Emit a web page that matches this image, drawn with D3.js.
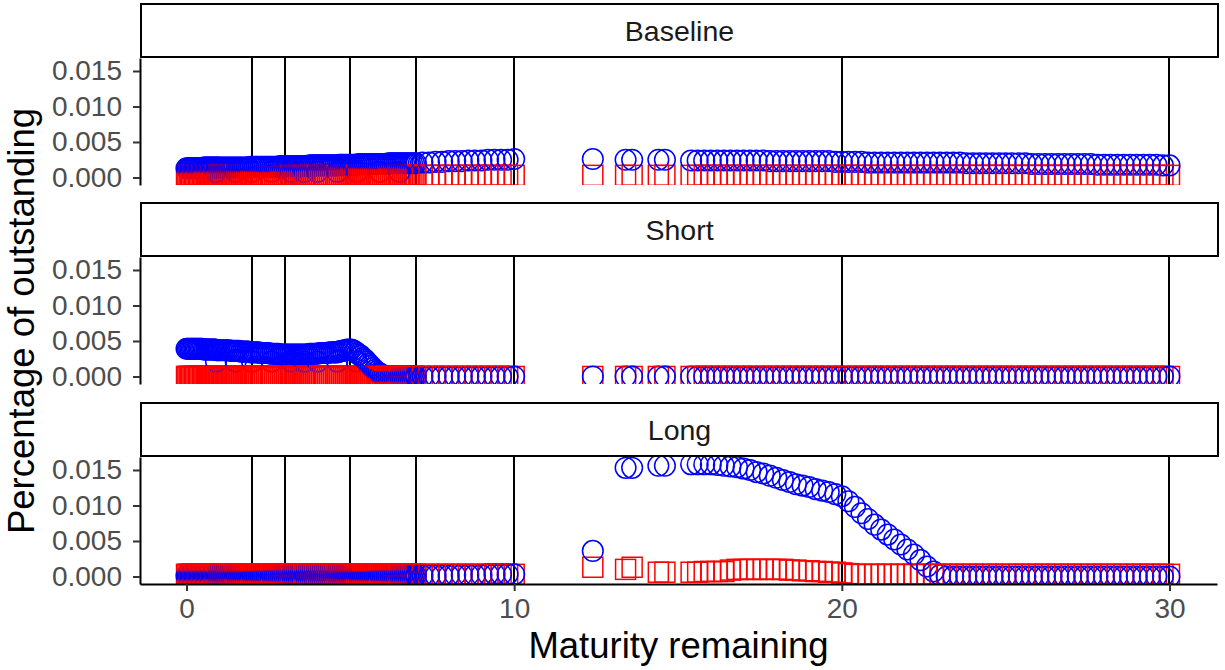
<!DOCTYPE html>
<html>
<head>
<meta charset="utf-8">
<script src="https://cdn.jsdelivr.net/npm/d3@7"></script>
<style>
  body { margin: 0; background: #fff; }
  text { font-family: "Liberation Sans", Arial, sans-serif; }
</style>
</head>
<body>
<svg id="chart" width="1225" height="670"></svg>
<script>
// facets
const panels = ["Baseline", "Short", "Long"];

// reference maturities (vertical rules)
const benchmarks = [2, 3, 5, 7, 10, 20, 30];

// maturity remaining of each issue
const maturity = [
  0, 0.04, 0.08, 0.12, 0.16, 0.2, 0.24, 0.28, 0.32, 0.36,
  0.4, 0.44, 0.48, 0.52, 0.56, 0.6, 0.64, 0.68, 0.72, 0.76,
  0.8, 0.84, 0.88, 0.92, 0.96, 1.0,
  1.06, 1.12, 1.18, 1.24, 1.3, 1.36, 1.42, 1.48, 1.54, 1.6,
  1.66, 1.72, 1.78, 1.84, 1.9, 1.96, 2.02, 2.08, 2.14, 2.2,
  2.26, 2.32, 2.38, 2.44, 2.5, 2.56, 2.62, 2.68, 2.74, 2.8,
  2.86, 2.92, 2.98, 3.04, 3.1, 3.16, 3.22, 3.28, 3.34, 3.4,
  3.46, 3.52, 3.58, 3.64, 3.7, 3.76, 3.82, 3.88, 3.94, 4.0,
  4.06, 4.12, 4.18, 4.24, 4.3, 4.36, 4.42, 4.48, 4.54, 4.6,
  4.66, 4.72, 4.78, 4.84, 4.9, 4.96, 5.02, 5.08, 5.14, 5.2,
  5.26, 5.32, 5.38, 5.44, 5.5, 5.56, 5.62, 5.68, 5.74, 5.8,
  5.86, 5.92, 5.98, 6.04, 6.1, 6.16, 6.22, 6.28, 6.34, 6.4,
  6.46, 6.52, 6.58, 6.64, 6.7, 6.76, 6.82, 6.88, 6.94, 7.0,
  7.2, 7.4, 7.6, 7.8, 8.0, 8.2, 8.4, 8.6, 8.8, 9.0,
  9.2, 9.4, 9.6, 9.8, 10.0,
  12.4, 13.4, 13.6, 14.4, 14.6, 15.4, 15.6,
  15.8, 16.0, 16.2, 16.4, 16.6, 16.8, 17.0, 17.2, 17.4, 17.6,
  17.8, 18.0, 18.2, 18.4, 18.6, 18.8, 19.0, 19.2, 19.4, 19.6,
  19.8, 20.0, 20.2, 20.4, 20.6, 20.8, 21.0, 21.2, 21.4, 21.6,
  21.8, 22.0, 22.2, 22.4, 22.6, 22.8, 23.0, 23.2, 23.4, 23.6,
  23.8, 24.0, 24.2, 24.4, 24.6, 24.8, 25.0, 25.2, 25.4, 25.6,
  25.8, 26.0, 26.2, 26.4, 26.6, 26.8, 27.0, 27.2, 27.4, 27.6,
  27.8, 28.0, 28.2, 28.4, 28.6, 28.8, 29.0, 29.2, 29.4, 29.6,
  29.8, 30.0
];

const baselineBlue = [
  0.0013, 0.0013, 0.0013, 0.0013, 0.0013, 0.0013, 0.0013, 0.0013, 0.0013, 0.0013,
  0.0013, 0.0013, 0.0013, 0.0014, 0.0014, 0.0014, 0.0014, 0.0014, 0.0014, 0.0014,
  0.0014, 0.0014, 0.0014, 0.0014, 0.0014, 0.0014,
  0.0014, 0.0014, 0.0014, 0.0014, 0.0014, 0.0014, 0.0014, 0.0014, 0.0014, 0.0014,
  0.0014, 0.0014, 0.0014, 0.0014, 0.0014, 0.0015, 0.0015, 0.0015, 0.0015, 0.0015,
  0.0015, 0.0015, 0.0015, 0.0015, 0.0015, 0.0015, 0.0015, 0.0015, 0.0015, 0.0015,
  0.0016, 0.0016, 0.0016, 0.0016, 0.0016, 0.0016, 0.0016, 0.0016, 0.0016, 0.0016,
  0.0016, 0.0016, 0.0016, 0.0016, 0.0016, 0.0017, 0.0017, 0.0017, 0.0017, 0.0017,
  0.0017, 0.0017, 0.0017, 0.0017, 0.0017, 0.0017, 0.0017, 0.0017, 0.0017, 0.0017,
  0.0018, 0.0018, 0.0018, 0.0018, 0.0018, 0.0018, 0.0018, 0.0018, 0.0018, 0.0018,
  0.0019, 0.0019, 0.0019, 0.0019, 0.0019, 0.0019, 0.0019, 0.0019, 0.0019, 0.0019,
  0.0019, 0.0019, 0.0019, 0.0019, 0.0019, 0.002, 0.002, 0.002, 0.002, 0.002,
  0.002, 0.002, 0.002, 0.002, 0.002, 0.002, 0.002, 0.002, 0.002, 0.002,
  0.0021, 0.0021, 0.0022, 0.0022, 0.0023, 0.0023, 0.0023, 0.0024, 0.0024, 0.0024,
  0.0025, 0.0025, 0.0025, 0.0025, 0.0026,
  0.0026, 0.0025, 0.0025, 0.0025, 0.0025, 0.0024, 0.0024,
  0.0024, 0.0024, 0.0024, 0.0024, 0.0024, 0.0024, 0.0024, 0.0024, 0.0024, 0.0024,
  0.0023, 0.0023, 0.0023, 0.0023, 0.0023, 0.0023, 0.0023, 0.0023, 0.0023, 0.0023,
  0.0022, 0.0022, 0.0022, 0.0022, 0.0022, 0.0021, 0.0021, 0.0021, 0.0021, 0.0021,
  0.0021, 0.0021, 0.0021, 0.0021, 0.0021, 0.0021, 0.0021, 0.0021, 0.0021, 0.0021,
  0.002, 0.002, 0.002, 0.002, 0.002, 0.002, 0.002, 0.002, 0.002, 0.002,
  0.0019, 0.0019, 0.0019, 0.0019, 0.0019, 0.0019, 0.0019, 0.0019, 0.0019, 0.0019,
  0.0018, 0.0018, 0.0018, 0.0018, 0.0018, 0.0018, 0.0018, 0.0018, 0.0018, 0.0018,
  0.0017, 0.0017
];
const baselineRed = [
  0.0003, 0.0003, 0.0003, 0.0003, 0.0003, 0.0003, 0.0003, 0.0003, 0.0003, 0.0003,
  0.0003, 0.0003, 0.0003, 0.0003, 0.0003, 0.0003, 0.0003, 0.0003, 0.0003, 0.0003,
  0.0003, 0.0003, 0.0003, 0.0003, 0.0003, 0.0003,
  0.0003, 0.0003, 0.0003, 0.0003, 0.0003, 0.0003, 0.0003, 0.0003, 0.0003, 0.0003,
  0.0003, 0.0003, 0.0003, 0.0003, 0.0003, 0.0003, 0.0003, 0.0003, 0.0003, 0.0003,
  0.0003, 0.0003, 0.0003, 0.0003, 0.0003, 0.0003, 0.0003, 0.0003, 0.0003, 0.0003,
  0.0003, 0.0003, 0.0003, 0.0003, 0.0003, 0.0003, 0.0003, 0.0003, 0.0003, 0.0003,
  0.0003, 0.0003, 0.0003, 0.0003, 0.0003, 0.0003, 0.0003, 0.0003, 0.0003, 0.0003,
  0.0003, 0.0003, 0.0003, 0.0003, 0.0003, 0.0003, 0.0003, 0.0003, 0.0003, 0.0003,
  0.0003, 0.0003, 0.0003, 0.0003, 0.0003, 0.0003, 0.0003, 0.0003, 0.0003, 0.0003,
  0.0003, 0.0003, 0.0003, 0.0003, 0.0003, 0.0003, 0.0003, 0.0003, 0.0003, 0.0003,
  0.0003, 0.0003, 0.0003, 0.0003, 0.0003, 0.0003, 0.0003, 0.0003, 0.0003, 0.0003,
  0.0003, 0.0003, 0.0003, 0.0003, 0.0003, 0.0003, 0.0003, 0.0003, 0.0003, 0.0003,
  0.0003, 0.0003, 0.0003, 0.0003, 0.0003, 0.0003, 0.0003, 0.0003, 0.0003, 0.0003,
  0.0003, 0.0003, 0.0003, 0.0003, 0.0003,
  0.0003, 0.0003, 0.0003, 0.0003, 0.0003, 0.0003, 0.0003,
  0.0003, 0.0003, 0.0003, 0.0003, 0.0003, 0.0003, 0.0003, 0.0003, 0.0003, 0.0003,
  0.0003, 0.0003, 0.0003, 0.0003, 0.0003, 0.0003, 0.0003, 0.0003, 0.0003, 0.0003,
  0.0003, 0.0003, 0.0003, 0.0003, 0.0003, 0.0003, 0.0003, 0.0003, 0.0003, 0.0003,
  0.0003, 0.0003, 0.0003, 0.0003, 0.0003, 0.0003, 0.0003, 0.0003, 0.0003, 0.0003,
  0.0003, 0.0003, 0.0003, 0.0003, 0.0003, 0.0003, 0.0003, 0.0003, 0.0003, 0.0003,
  0.0003, 0.0003, 0.0003, 0.0003, 0.0003, 0.0003, 0.0003, 0.0003, 0.0003, 0.0003,
  0.0003, 0.0003, 0.0003, 0.0003, 0.0003, 0.0003, 0.0003, 0.0003, 0.0003, 0.0003,
  0.0003, 0.0003
];

const shortBlue = [
  0.0039, 0.0039, 0.0039, 0.0039, 0.0039, 0.0039, 0.0039, 0.0039, 0.0039, 0.0039,
  0.0039, 0.0039, 0.0039, 0.0038, 0.0038, 0.0038, 0.0038, 0.0038, 0.0038, 0.0038,
  0.0038, 0.0038, 0.0038, 0.0037, 0.0037, 0.0037,
  0.0037, 0.0037, 0.0037, 0.0037, 0.0037, 0.0036, 0.0036, 0.0036, 0.0036, 0.0036,
  0.0035, 0.0035, 0.0035, 0.0035, 0.0035, 0.0034, 0.0034, 0.0034, 0.0034, 0.0034,
  0.0033, 0.0033, 0.0033, 0.0033, 0.0033, 0.0032, 0.0032, 0.0032, 0.0032, 0.0032,
  0.0031, 0.0031, 0.0031, 0.0031, 0.0031, 0.0031, 0.0031, 0.0031, 0.0031, 0.0031,
  0.0031, 0.0031, 0.0031, 0.0031, 0.0031, 0.0032, 0.0032, 0.0032, 0.0032, 0.0032,
  0.0033, 0.0033, 0.0033, 0.0033, 0.0033, 0.0034, 0.0034, 0.0034, 0.0034, 0.0034,
  0.0035, 0.0036, 0.0036, 0.0037, 0.0038, 0.0038, 0.0038, 0.0037, 0.0035, 0.0033,
  0.0031, 0.0029, 0.0026, 0.0024, 0.0021, 0.0018, 0.0015, 0.0012, 0.0009, 0.0007,
  0.0005, 0.0003, 0.0001, 0, 0, 0, 0, 0, 0, 0,
  0, 0, 0, 0, 0, 0, 0, 0, 0, 0,
  0, 0, 0, 0, 0, 0, 0, 0, 0, 0,
  0, 0, 0, 0, 0,
  0, 0, 0, 0, 0, 0, 0,
  0, 0, 0, 0, 0, 0, 0, 0, 0, 0,
  0, 0, 0, 0, 0, 0, 0, 0, 0, 0,
  0, 0, 0, 0, 0, 0, 0, 0, 0, 0,
  0, 0, 0, 0, 0, 0, 0, 0, 0, 0,
  0, 0, 0, 0, 0, 0, 0, 0, 0, 0,
  0, 0, 0, 0, 0, 0, 0, 0, 0, 0,
  0, 0, 0, 0, 0, 0, 0, 0, 0, 0,
  0, 0
];
const shortRed = [
  0, 0, 0, 0, 0, 0, 0, 0, 0, 0,
  0, 0, 0, 0, 0, 0, 0, 0, 0, 0,
  0, 0, 0, 0, 0, 0,
  0, 0, 0, 0, 0, 0, 0, 0, 0, 0,
  0, 0, 0, 0, 0, 0, 0, 0, 0, 0,
  0, 0, 0, 0, 0, 0, 0, 0, 0, 0,
  0, 0, 0, 0, 0, 0, 0, 0, 0, 0,
  0, 0, 0, 0, 0, 0, 0, 0, 0, 0,
  0, 0, 0, 0, 0, 0, 0, 0, 0, 0,
  0, 0, 0, 0, 0, 0, 0, 0, 0, 0,
  0, 0, 0, 0, 0, 0, 0, 0, 0, 0,
  0, 0, 0, 0, 0, 0, 0, 0, 0, 0,
  0, 0, 0, 0, 0, 0, 0, 0, 0, 0,
  0, 0, 0, 0, 0, 0, 0, 0, 0, 0,
  0, 0, 0, 0, 0,
  0, 0, 0, 0, 0, 0, 0,
  0, 0, 0, 0, 0, 0, 0, 0, 0, 0,
  0, 0, 0, 0, 0, 0, 0, 0, 0, 0,
  0, 0, 0, 0, 0, 0, 0, 0, 0, 0,
  0, 0, 0, 0, 0, 0, 0, 0, 0, 0,
  0, 0, 0, 0, 0, 0, 0, 0, 0, 0,
  0, 0, 0, 0, 0, 0, 0, 0, 0, 0,
  0, 0, 0, 0, 0, 0, 0, 0, 0, 0,
  0, 0
];

const longBlue = [
  0.0001, 0.0001, 0.0001, 0.0001, 0.0001, 0.0001, 0.0001, 0.0001, 0.0001, 0.0001,
  0.0001, 0.0001, 0.0001, 0.0001, 0.0001, 0.0001, 0.0001, 0.0001, 0.0001, 0.0001,
  0.0001, 0.0001, 0.0001, 0.0001, 0.0001, 0.0001,
  0.0001, 0.0001, 0.0001, 0.0001, 0.0001, 0.0001, 0.0001, 0.0001, 0.0001, 0.0001,
  0.0001, 0.0001, 0.0001, 0.0001, 0.0001, 0.0001, 0.0001, 0.0001, 0.0001, 0.0001,
  0.0001, 0.0001, 0.0001, 0.0001, 0.0001, 0.0001, 0.0001, 0.0001, 0.0001, 0.0001,
  0.0001, 0.0001, 0.0001, 0.0001, 0.0001, 0.0001, 0.0001, 0.0001, 0.0001, 0.0001,
  0.0001, 0.0001, 0.0001, 0.0001, 0.0001, 0.0001, 0.0001, 0.0001, 0.0001, 0.0001,
  0.0001, 0.0001, 0.0001, 0.0001, 0.0001, 0.0001, 0.0001, 0.0001, 0.0001, 0.0001,
  0.0001, 0.0001, 0.0001, 0.0001, 0.0001, 0.0001, 0.0001, 0.0001, 0.0001, 0.0001,
  0.0001, 0.0001, 0.0001, 0.0001, 0.0001, 0.0001, 0.0001, 0.0001, 0.0001, 0.0001,
  0.0001, 0.0001, 0.0001, 0.0001, 0.0001, 0.0001, 0.0001, 0.0001, 0.0001, 0.0001,
  0.0001, 0.0001, 0.0001, 0.0001, 0.0001, 0.0001, 0.0001, 0.0001, 0.0001, 0.0001,
  0.0001, 0.0001, 0.0001, 0.0001, 0.0001, 0.0002, 0.0002, 0.0002, 0.0002, 0.0002,
  0.0003, 0.0003, 0.0003, 0.0003, 0.0003,
  0.0036, 0.0153, 0.0153, 0.0156, 0.0156, 0.0158, 0.0158,
  0.0158, 0.0158, 0.0157, 0.0156, 0.0155, 0.0154, 0.0152, 0.015, 0.0147, 0.0145,
  0.0142, 0.0139, 0.0136, 0.0133, 0.013, 0.0128, 0.0126, 0.0123, 0.0121, 0.0119,
  0.0116, 0.0113, 0.0106, 0.0098, 0.0089, 0.0081, 0.0073, 0.0066, 0.0059, 0.0052,
  0.0045, 0.0038, 0.0031, 0.0023, 0.0014, 0.0007, 0.0002, 0, 0, 0,
  0, 0, 0, 0, 0, 0, 0, 0, 0, 0,
  0, 0, 0, 0, 0, 0, 0, 0, 0, 0,
  0, 0, 0, 0, 0, 0, 0, 0, 0, 0,
  0, 0
];
const longRed = [
  0.0003, 0.0003, 0.0003, 0.0003, 0.0003, 0.0003, 0.0003, 0.0003, 0.0003, 0.0003,
  0.0003, 0.0003, 0.0003, 0.0003, 0.0003, 0.0003, 0.0003, 0.0003, 0.0003, 0.0003,
  0.0003, 0.0003, 0.0003, 0.0003, 0.0003, 0.0003,
  0.0003, 0.0003, 0.0003, 0.0003, 0.0003, 0.0003, 0.0003, 0.0003, 0.0003, 0.0003,
  0.0003, 0.0003, 0.0003, 0.0003, 0.0003, 0.0003, 0.0003, 0.0003, 0.0003, 0.0003,
  0.0003, 0.0003, 0.0003, 0.0003, 0.0003, 0.0003, 0.0003, 0.0003, 0.0003, 0.0003,
  0.0003, 0.0003, 0.0003, 0.0003, 0.0003, 0.0003, 0.0003, 0.0003, 0.0003, 0.0003,
  0.0003, 0.0003, 0.0003, 0.0003, 0.0003, 0.0003, 0.0003, 0.0003, 0.0003, 0.0003,
  0.0003, 0.0003, 0.0003, 0.0003, 0.0003, 0.0003, 0.0003, 0.0003, 0.0003, 0.0003,
  0.0003, 0.0003, 0.0003, 0.0003, 0.0003, 0.0003, 0.0003, 0.0003, 0.0003, 0.0003,
  0.0003, 0.0003, 0.0003, 0.0003, 0.0003, 0.0003, 0.0003, 0.0003, 0.0003, 0.0003,
  0.0003, 0.0003, 0.0003, 0.0003, 0.0003, 0.0003, 0.0003, 0.0003, 0.0003, 0.0003,
  0.0003, 0.0003, 0.0003, 0.0003, 0.0003, 0.0003, 0.0003, 0.0003, 0.0003, 0.0003,
  0.0003, 0.0003, 0.0003, 0.0003, 0.0003, 0.0003, 0.0003, 0.0003, 0.0003, 0.0003,
  0.0003, 0.0003, 0.0003, 0.0003, 0.0003,
  0.0013, 0.001, 0.0013, 0.0006, 0.0006, 0.0006, 0.0006,
  0.0007, 0.0007, 0.0007, 0.0007, 0.0009, 0.001, 0.001, 0.001, 0.001, 0.001,
  0.001, 0.001, 0.001, 0.0009, 0.0009, 0.0008, 0.0008, 0.0007, 0.0007, 0.0006,
  0.0006, 0.0005, 0.0004, 0.0003, 0.0003, 0.0003, 0.0003, 0.0003, 0.0003, 0.0003,
  0.0003, 0.0003, 0.0003, 0.0003, 0.0003, 0.0003, 0.0003, 0.0003, 0.0003, 0.0003,
  0.0003, 0.0003, 0.0003, 0.0003, 0.0003, 0.0003, 0.0003, 0.0003, 0.0003, 0.0003,
  0.0003, 0.0003, 0.0003, 0.0003, 0.0003, 0.0003, 0.0003, 0.0003, 0.0003, 0.0003,
  0.0003, 0.0003, 0.0003, 0.0003, 0.0003, 0.0003, 0.0003, 0.0003, 0.0003, 0.0003,
  0.0003, 0.0003
];

// older off-the-run issues sitting below the main band
const oldMaturity = [0.9, 1.5, 2.0, 2.6, 3.2, 3.6, 4.0, 4.6, 5.2, 5.9, 6.5];
const baselineBlueOld = [0.0008, 0.0008, 0.0008, 0.0008, 0.0008, 0.0008, 0.0008, 0.0008, 0.0008, 0.0008, 0.0008];
const baselineRedOld = [0.0003, 0.0003, 0.0003, 0.0003, 0.0003, 0.0003, 0.0003, 0.0003, 0.0003, 0.0003, 0.0003];
const shortBlueOld = [0.0021, 0.0021, 0.0021, 0.0021, 0.0021, 0.0021, 0.0021, 0.0021, 0.0021, 0.0004, 0];
const shortRedOld = [0, 0, 0, 0, 0, 0, 0, 0, 0, 0, 0];
const longBlueOld = [0.0002, 0.0002, 0.0002, 0.0002, 0.0002, 0.0002, 0.0002, 0.0002, 0.0002, 0.0002, 0.0002];
const longRedOld = [0.0003, 0.0003, 0.0003, 0.0003, 0.0003, 0.0003, 0.0003, 0.0003, 0.0003, 0.0003, 0.0003];

const yTicks = [0, 0.005, 0.010, 0.015];
const xTicks = [0, 10, 20, 30];

const series = {
  Baseline: { blue: baselineBlue, red: baselineRed, blueOld: baselineBlueOld, redOld: baselineRedOld },
  Short: { blue: shortBlue, red: shortRed, blueOld: shortBlueOld, redOld: shortRedOld },
  Long: { blue: longBlue, red: longRed, blueOld: longBlueOld, redOld: longRedOld }
};

const svg = d3.select("#chart");
const left = 140, right = 1217;
const panelTops = [58, 257, 457];
const panelH = 127, stripH = 54;
const tickFont = 28, stripFont = 28.5, titleFont = 36.5;

const x = d3.scaleLinear().domain([-1.42, 31.45]).range([left, right]);

panels.forEach(function (name, i) {
  const top = panelTops[i];
  const y = d3.scaleLinear().domain([-0.00106, 0.01683]).range([top + panelH, top]);
  const s = series[name];

  // strip
  svg.append("rect")
    .attr("x", left + 1).attr("y", top - stripH)
    .attr("width", right - left).attr("height", stripH - 1)
    .attr("fill", "#fff").attr("stroke", "#000").attr("stroke-width", 2);
  svg.append("text")
    .attr("x", (left + right) / 2 + 1).attr("y", top - stripH / 2)
    .attr("text-anchor", "middle").attr("dominant-baseline", "central")
    .attr("font-size", stripFont).attr("fill", "#1a1a1a")
    .text(name);

  svg.append("clipPath").attr("id", "clip" + i)
    .append("rect").attr("x", left).attr("y", top).attr("width", right - left).attr("height", panelH);

  const g = svg.append("g").attr("clip-path", "url(#clip" + i + ")");

  g.selectAll("line.bench")
    .data(benchmarks)
    .enter().append("line")
    .attr("x1", d => Math.round(x(d))).attr("x2", d => Math.round(x(d)))
    .attr("y1", top).attr("y2", top + panelH)
    .attr("stroke", "#000").attr("stroke-width", 2.4)
    .attr("shape-rendering", "crispEdges");

  // issues in order of maturity, each drawn as square then circle
  const issues = maturity.map((m, k) => ({ m: m, blue: s.blue[k], red: s.red[k] }))
    .concat(oldMaturity.map((m, k) => ({ m: m, blue: s.blueOld[k], red: s.redOld[k] })))
    .sort((a, b) => a.m - b.m);

  const pt = g.selectAll("g.issue")
    .data(issues)
    .enter().append("g").attr("class", "issue");

  pt.append("rect")
    .attr("x", d => x(d.m) - 10).attr("y", d => y(d.red) - 10)
    .attr("width", 20).attr("height", 20)
    .attr("fill", "none").attr("stroke", "#ff0000").attr("stroke-width", 1.5);

  pt.append("circle")
    .attr("cx", d => x(d.m)).attr("cy", d => y(d.blue))
    .attr("r", 10.3)
    .attr("fill", "none").attr("stroke", "#0000ff").attr("stroke-width", 1.5);

  // y axis
  const ya = svg.append("g")
    .attr("transform", "translate(" + left + ",0)")
    .call(d3.axisLeft(y).tickValues(yTicks).tickFormat(d3.format(".3f")).tickSize(7).tickSizeOuter(0).tickPadding(11));
  ya.select(".domain").attr("stroke", "#000").attr("stroke-width", 2);
  ya.selectAll(".tick line").attr("stroke", "#333").attr("stroke-width", 2);
  ya.selectAll(".tick text").attr("font-size", tickFont).attr("fill", "#4d4d4d")
    .attr("font-family", "Liberation Sans, Arial, sans-serif");

  if (i === panels.length - 1) {
    const xa = svg.append("g")
      .attr("transform", "translate(0," + (top + panelH) + ")")
      .call(d3.axisBottom(x).tickValues(xTicks).tickSize(7).tickSizeOuter(0).tickPadding(7));
    xa.select(".domain").attr("stroke", "#000").attr("stroke-width", 2);
    xa.selectAll(".tick line").attr("stroke", "#333").attr("stroke-width", 2);
    xa.selectAll(".tick text").attr("font-size", tickFont).attr("fill", "#4d4d4d")
      .attr("font-family", "Liberation Sans, Arial, sans-serif");
  }
});

svg.append("text")
  .attr("x", (left + right) / 2).attr("y", 658)
  .attr("text-anchor", "middle").attr("font-size", titleFont).attr("fill", "#000")
  .text("Maturity remaining");

svg.append("text")
  .attr("transform", "translate(34," + ((panelTops[0] + panelTops[2] + panelH) / 2) + ") rotate(-90)")
  .attr("text-anchor", "middle").attr("font-size", titleFont).attr("fill", "#000")
  .text("Percentage of outstanding");
</script>
</body>
</html>
